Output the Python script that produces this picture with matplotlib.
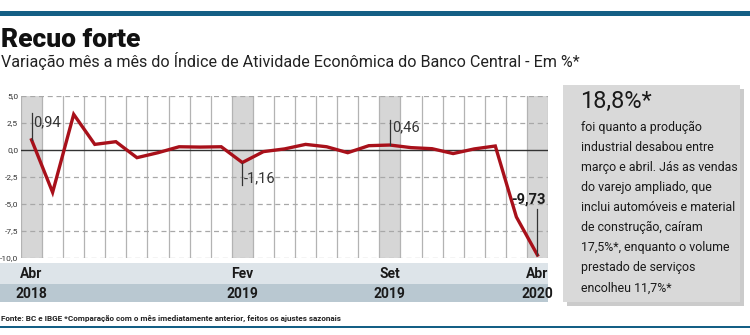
import matplotlib
matplotlib.use("Agg")
import matplotlib.pyplot as plt
from matplotlib.patches import Rectangle
from matplotlib import font_manager as fm

# Monthly change of the IBC-Br index, Apr/2018 .. Apr/2020 (%)
months = ["Abr", "Mai", "Jun", "Jul", "Ago", "Set", "Out", "Nov", "Dez",
          "Jan", "Fev", "Mar", "Abr", "Mai", "Jun", "Jul", "Ago", "Set",
          "Out", "Nov", "Dez", "Jan", "Fev", "Mar", "Abr"]
years = [2018] * 9 + [2019] * 12 + [2020] * 4
values = [0.94, -3.92, 3.30, 0.52, 0.77, -0.71, -0.25, 0.30, 0.27,
          0.30, -1.16, -0.15, 0.10, 0.52, 0.30, -0.25, 0.40, 0.46,
          0.22, 0.12, -0.33, 0.10, 0.37, -6.20, -9.73]
highlight = [0, 10, 17, 24]          # months with value labels
yticks = [5.0, 2.5, 0.0, -2.5, -5.0, -7.5, -10.0]

W, H = 750, 335
fig = plt.figure(figsize=(W / 100, H / 100), dpi=100)
fig.patch.set_facecolor("white")

def families(*names):
    avail = {f.name for f in fm.fontManager.ttflist}
    return [n for n in names if n in avail] + ["DejaVu Sans"]

NARROW = families("Liberation Sans Narrow", "Roboto", "Open Sans")
HEAVY = families("Roboto", "Lato", "Open Sans")

# overlay in pixel units for the page furniture
deco = fig.add_axes([0, 0, 1, 1])
deco.set_xlim(0, W)
deco.set_ylim(H, 0)
deco.axis("off")

BLUE = "#145f85"
deco.add_patch(Rectangle((0, 11), W, 5, color=BLUE, lw=0))
deco.add_patch(Rectangle((0, 326), W, 2, color=BLUE, lw=0))

deco.text(1, 40, "Recuo forte", fontsize=19, fontweight="black",
          family=HEAVY, va="center", ha="left", color="#111111")
deco.text(1, 61, "Variação mês a mês do Índice de Atividade Econômica do Banco Central - Em %*",
          fontsize=11.6, family=NARROW, va="center", ha="left", color="#222222")

# month / year bands under the chart
deco.add_patch(Rectangle((0, 263), 548, 21, color="#dde4e9", lw=0))
deco.add_patch(Rectangle((0, 284), 548, 18, color="#b9c8d1", lw=0))

deco.text(1, 318, "Fonte: BC e IBGE *Comparação com o mês imediatamente anterior, feitos os ajustes sazonais",
          fontsize=5.9, fontweight="bold", family=NARROW, va="center", ha="left",
          color="#222222")

# side box with shadow
deco.add_patch(Rectangle((567, 89), 177, 217, color="#a9a9a9", lw=0, alpha=0.6))
deco.add_patch(Rectangle((563, 85), 177, 217, color="#d9d9d9", lw=0))
deco.text(580, 101, "18,8%*", fontsize=17, family=NARROW, va="center",
          ha="left", color="#1a1a1a")
box_lines = ["foi quanto a produção", "industrial desabou entre",
             "março e abril. Jás as vendas", "do varejo ampliado, que",
             "inclui automóveis e material", "de construção, caíram",
             "17,5%*, enquanto o volume", "prestado de serviços",
             "encolheu 11,7%*"]
for k, line in enumerate(box_lines):
    deco.text(581, 127 + k * 20.1, line, fontsize=8.9, family=NARROW,
              va="center", ha="left", color="#1a1a1a")

# chart
x0, x1, ytop, ybot = 21, 548, 96, 258
ax = fig.add_axes([x0 / W, (H - ybot) / H, (x1 - x0) / W, (ybot - ytop) / H])
ax.set_facecolor("none")
n = len(values)
xs = list(range(n))
ax.set_xlim(-0.5, n - 0.5)
ax.set_ylim(-10, 5)

for i in highlight:
    ax.axvspan(i - 0.5, i + 0.5, color="#d6d6d6", lw=0, zorder=0)
for k in range(n + 1):
    ax.axvline(k - 0.5, color="#b3b3b3", lw=0.9, zorder=1)
for v in yticks:
    if v == 0:
        continue
    ax.axhline(v, color="#a8a8a8", lw=0.9, ls=(0, (4, 3)), zorder=1)
ax.axhline(0, color="#333333", lw=1.0, zorder=2)

ax.plot(xs, values, color="#a8101a", lw=2.4, solid_joinstyle="miter", zorder=4)

for s in ax.spines.values():
    s.set_visible(False)
ax.set_xticks([])
ax.set_yticks(yticks)
ax.set_yticklabels([f"{v:.1f}".replace(".", ",") for v in yticks],
                   fontsize=6.0, color="#333333", family=NARROW)
ax.tick_params(axis="y", length=0, pad=2)

def fmt(v):
    return f"{v:.2f}".replace(".", ",")

# value call-outs
i = highlight[0]
ax.plot([i, i], [values[i], 3.4], color="#333333", lw=0.9, zorder=5)
ax.text(i + 0.08, 2.6, fmt(values[i]), fontsize=10.5, family=NARROW,
        color="#333333", va="center", ha="left", zorder=5)
i = highlight[1]
ax.plot([i, i], [values[i], -3.2], color="#333333", lw=0.9, zorder=5)
ax.text(i + 0.05, -2.6, fmt(values[i]), fontsize=10.5, family=NARROW,
        color="#333333", va="center", ha="left", zorder=5)
i = highlight[2]
ax.plot([i, i], [values[i], 2.8], color="#333333", lw=0.9, zorder=5)
ax.text(i + 0.1, 2.1, fmt(values[i]), fontsize=10.5, family=NARROW,
        color="#333333", va="center", ha="left", zorder=5)
i = highlight[3]
ax.plot([i, i], [values[i], -5.5], color="#333333", lw=0.9, zorder=5)
ax.text(i + 0.4, -4.6, fmt(values[i]), fontsize=10.5, fontweight="bold",
        family=NARROW, color="#1a1a1a", va="center", ha="right", zorder=5)

# month / year labels for highlighted columns
mrow = -(274 - ybot) / (ybot - ytop)
yrow = -(294 - ybot) / (ybot - ytop)
for i in highlight:
    ax.text(i, mrow, months[i], transform=ax.get_xaxis_transform(),
            fontsize=10, fontweight="bold", family=NARROW, color="#1a1a1a",
            ha="center", va="center", clip_on=False)
    ax.text(i, yrow, str(years[i]), transform=ax.get_xaxis_transform(),
            fontsize=10, fontweight="bold", family=NARROW, color="#1a1a1a",
            ha="center", va="center", clip_on=False)

fig.savefig("out.png", dpi=100, facecolor="white")
